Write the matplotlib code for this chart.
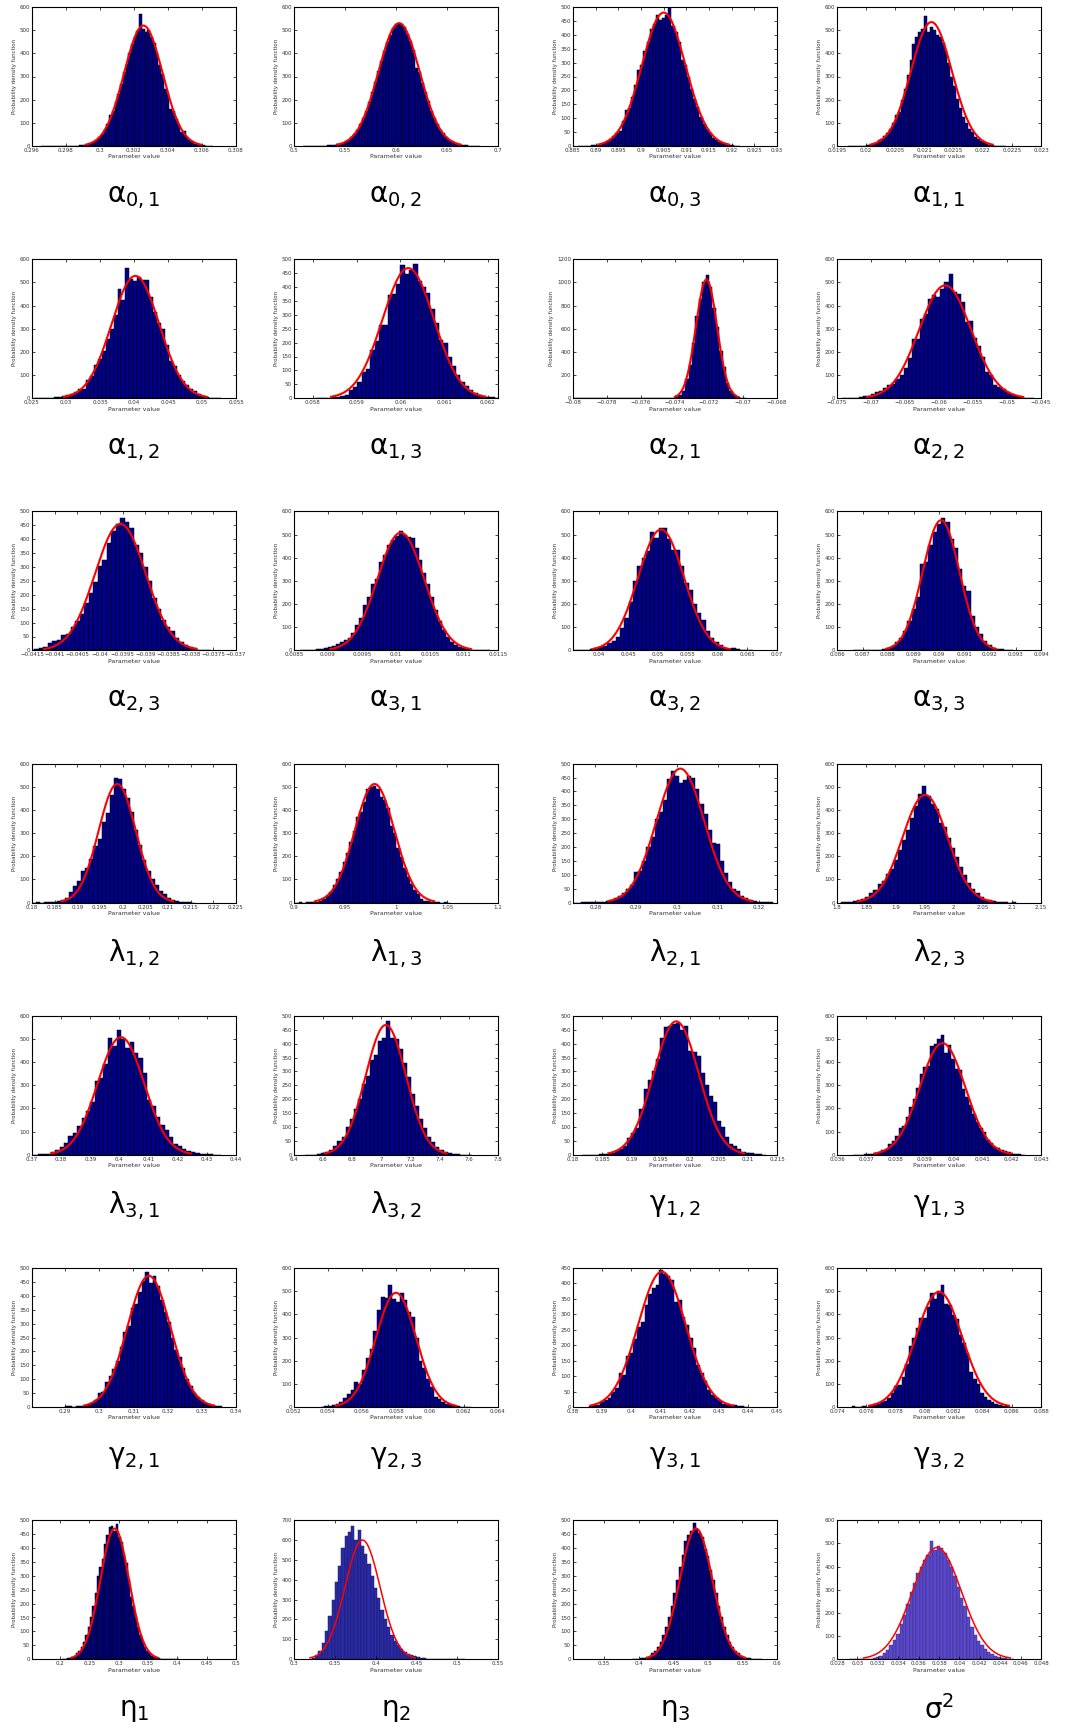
import matplotlib
matplotlib.use("Agg")
import matplotlib.pyplot as plt
import numpy as np
from matplotlib.ticker import FuncFormatter

plt.rcParams.update({"font.family": "DejaVu Sans", "mathtext.default": "regular"})

# parameter names (greek letter, subscript / superscript)
LABELS = [
    "α$_{0,1}$", "α$_{0,2}$", "α$_{0,3}$", "α$_{1,1}$",
    "α$_{1,2}$", "α$_{1,3}$", "α$_{2,1}$", "α$_{2,2}$",
    "α$_{2,3}$", "α$_{3,1}$", "α$_{3,2}$", "α$_{3,3}$",
    "λ$_{1,2}$", "λ$_{1,3}$", "λ$_{2,1}$", "λ$_{2,3}$",
    "λ$_{3,1}$", "λ$_{3,2}$", "γ$_{1,2}$", "γ$_{1,3}$",
    "γ$_{2,1}$", "γ$_{2,3}$", "γ$_{3,1}$", "γ$_{3,2}$",
    "η$_{1}$", "η$_{2}$", "η$_{3}$", "σ$^{2}$",
]

# histogram bins: left edge of first bin and bin width
BIN_START = [
    0.29651, 0.50907, 0.886135, 0.019695,
    0.025333, 0.05804, -0.0800, -0.0742,
    -0.04155, 0.008591, 0.0357, 0.086618,
    0.18005, 0.90145, 0.2745, 1.8065,
    0.3705, 6.474, 0.1816, 0.03656,
    0.2899, 0.05356, 0.3855, 0.0750,
    0.203, 0.322, 0.3902, 0.02918,
]
BIN_WIDTH = [
    0.000161, 0.00289, 0.000686, 0.00005,
    0.000583, 0.000098, 0.0002, 0.0006,
    0.0001, 0.000058, 0.00072, 0.000165,
    0.0009, 0.0033, 0.001, 0.007,
    0.0015, 0.028, 0.0007, 0.00012,
    0.00107, 0.000222, 0.00127, 0.000245,
    0.004, 0.004, 0.004, 0.00033,
]

HEIGHTS = [
    # alpha 0,1
    [0, 0, 0, 0, 0, 0, 0, 0, 0, 1, 0, 1, 1, 2, 3, 4, 6, 9, 13, 19, 27, 38, 52, 72,
     95, 133, 150, 190, 225, 268, 318, 355, 400, 440, 470, 495, 570, 505, 490, 500, 470, 445,
     400, 350, 310, 245, 225, 160, 150, 115, 90, 62, 65, 40, 25, 18, 10, 8, 5, 3, 2, 1, 0],
    # alpha 0,2
    [0, 0, 1, 0, 1, 1, 2, 2, 3, 4, 5, 7, 9, 14, 20, 28, 40, 53, 70,
     96, 120, 150, 190, 232, 275, 325, 365, 410, 450, 480, 510, 525, 530, 525, 515, 485, 455,
     415, 338, 320, 272, 232, 195, 150, 120, 95, 70, 55, 40, 28, 20, 13, 10, 6, 4, 3, 2, 1, 0, 0],
    # alpha 0,3
    [0, 1, 0, 1, 2, 3, 5, 8, 12, 18, 25, 35, 48, 55, 90, 130, 135, 175, 220, 275, 290, 340, 375,
     420, 440, 470, 455, 460, 470, 505, 430, 410, 375, 310, 290, 250, 205, 170, 140, 105, 80,
     60, 45, 30, 22, 15, 10, 6, 4, 2, 1, 0],
    # alpha 1,1
    [0, 0, 1, 0, 1, 2, 3, 5, 8, 15, 25, 30, 45, 55, 75, 100, 135, 145, 200, 245, 305, 370, 440, 470,
     490, 505, 560, 490, 515, 500, 480, 470, 445, 410, 360, 300, 260, 205, 165, 125, 100, 75,
     60, 40, 30, 20, 18, 15, 5, 3, 2, 1, 1, 0],
    # alpha 1,2
    [0, 0, 1, 1, 3, 4, 6, 8, 12, 20, 28, 38, 40, 80, 95, 145, 170, 205, 255, 300, 360, 470,
     425, 560, 515, 505, 525, 510, 510, 435, 370, 325, 300, 230, 160, 140,
     100, 75, 55, 40, 30, 18, 10, 5, 3, 2, 1],
    # alpha 1,3
    [0, 1, 1, 2, 3, 5, 8, 12, 28, 42, 60, 95, 105, 175, 205, 262, 265, 370, 375, 410, 478,
     445, 460, 482, 420, 400, 380, 320, 270, 210, 200, 150, 115, 85, 60, 45, 30, 20, 12, 8,
     5, 3, 2, 1, 0],
    # alpha 2,1
    [0] * 29 + [2, 8, 25, 60, 165, 290, 480, 710, 860, 1000, 1060, 960, 780, 615, 410, 270,
                130, 65, 30, 12, 3, 1],
    # alpha 2,2
    [0, 1, 2, 3, 6, 8, 10, 16, 25, 32, 42, 55, 62, 85, 100, 130, 175, 255, 255, 340, 365, 430,
     445, 435, 470, 500, 535, 460, 450, 415, 330, 335, 260, 225, 180, 115, 100, 55, 50, 40,
     25, 18, 10, 6, 3, 1, 0],
    # alpha 2,3
    [3, 5, 8, 12, 28, 35, 38, 55, 60, 85, 105, 130, 172, 205, 245, 305, 325, 385, 430, 455,
     478, 462, 440, 380, 350, 300, 250, 190, 150, 110, 85, 70, 45, 30, 20, 12, 10, 3, 2, 1],
    # alpha 3,1
    [1, 0, 1, 3, 6, 8, 10, 14, 20, 28, 38, 45, 52, 75, 110, 140, 198, 230, 285, 310, 380, 410,
     455, 475, 495, 515, 500, 490, 485, 440, 390, 335, 285, 230, 175, 125, 90, 60, 38, 22,
     14, 9, 5, 3, 2, 1, 1, 0],
    # alpha 3,2
    [0, 1, 1, 2, 5, 10, 15, 18, 30, 40, 60, 95, 140, 210, 300, 365, 400, 430, 512, 485, 530,
     530, 480, 435, 435, 365, 290, 262, 200, 160, 130, 85, 55, 35, 22, 12, 8, 10, 5, 2, 1, 0],
    # alpha 3,3
    [0, 0, 1, 0, 1, 1, 3, 6, 12, 20, 35, 55, 85, 125, 180, 230, 375, 380, 455, 510,
     545, 570, 555, 480, 440, 350, 280, 255, 150, 100, 70, 40, 25, 12, 8, 4, 2, 1],
    # lambda 1,2
    [0, 1, 0, 1, 2, 3, 5, 10, 20, 45, 70, 95, 135, 150, 190, 245, 275, 350, 385, 465,
     540, 535, 490, 450, 390, 315, 250, 185, 135, 100, 75, 50, 35, 20, 10, 5, 3, 1, 1, 0],
    # lambda 1,3
    [0, 1, 0, 1, 1, 2, 4, 8, 15, 30, 45, 75, 100, 130, 175, 215, 260, 310, 370, 390, 435, 490,
     500, 505, 490, 455, 445, 410, 330, 300, 235, 195, 150, 110, 80, 55, 35, 15, 8, 5, 3, 1,
     1, 0, 1, 0],
    # lambda 2,1
    [0, 0, 1, 1, 1, 2, 2, 3, 4, 8, 15, 25, 35, 50, 65, 110, 115, 150, 200, 235,
     300, 325, 370, 445, 472, 455, 432, 440, 455, 450, 410, 355, 320, 260, 215, 210, 150, 105,
     75, 50, 42, 25, 15, 10, 5, 3, 2, 1, 1],
    # lambda 2,3
    [1, 2, 2, 5, 10, 15, 25, 40, 55, 80, 95, 125, 145, 185, 225, 270, 315, 365, 415, 470, 505,
     460, 425, 405, 345, 325, 280, 235, 195, 155, 120, 85, 60, 40, 25, 12, 10, 8, 3, 1, 1, 0, 1],
    # lambda 3,1
    [1, 2, 3, 5, 12, 20, 35, 50, 80, 95, 125, 160, 190, 230, 320, 330, 390, 505, 470, 540, 500,
     460, 485, 440, 420, 355, 235, 210, 165, 130, 105, 75, 45, 40, 25, 15, 10, 8, 3, 2, 2, 1, 1],
    # lambda 3,2
    [0, 1, 1, 2, 5, 10, 18, 30, 50, 65, 100, 130, 165, 200, 255, 285, 340, 360, 410, 420, 480,
     420, 415, 380, 330, 280, 220, 175, 130, 95, 65, 45, 28, 18, 10, 5, 3, 2, 1, 0, 1],
    # gamma 1,2
    [1, 0, 1, 1, 2, 2, 3, 5, 12, 20, 30, 60, 80, 95, 165, 235, 270, 300, 345, 420, 460, 465,
     470, 475, 450, 462, 375, 370, 355, 295, 250, 210, 190, 120, 100, 65, 40, 30, 20, 10, 5,
     5, 3, 2, 1],
    # gamma 1,3
    [0, 1, 1, 2, 3, 5, 8, 12, 20, 25, 45, 60, 80, 115, 125, 165, 205, 240, 290, 350, 380, 385,
     470, 480, 500, 515, 440, 475, 415, 370, 365, 285, 250, 215, 175, 140, 115, 100, 65, 50,
     35, 30, 20, 18, 10, 5, 3, 2, 1],
    # gamma 2,1
    [3, 2, 1, 2, 3, 5, 8, 15, 25, 50, 55, 90, 110, 135, 165, 215, 270, 290, 355, 370, 415, 455,
     485, 445, 470, 435, 385, 340, 305, 250, 205, 180, 140, 100, 75, 50, 35, 25, 15, 10, 8, 5, 3],
    # gamma 2,3
    [1, 3, 5, 8, 12, 20, 38, 55, 75, 110, 100, 160, 210, 250, 330, 420, 475, 470, 525, 465,
     455, 490, 460, 410, 390, 300, 200, 170, 120, 85, 45, 35, 20, 12, 8, 5, 3, 2, 1, 1],
    # gamma 3,1
    [3, 5, 8, 15, 22, 28, 50, 60, 110, 105, 165, 175, 220, 260, 275, 330, 365, 385, 395, 445,
     430, 425, 410, 340, 345, 290, 265, 225, 190, 135, 110, 85, 55, 40, 30, 20, 10, 5, 5, 5, 4,
     2, 0],
    # gamma 3,2
    [3, 1, 2, 3, 2, 5, 12, 15, 20, 25, 40, 60, 90, 95, 130, 185, 265, 300, 340, 385, 385, 430,
     490, 465, 500, 525, 445, 440, 395, 380, 310, 275, 235, 150, 120, 100, 60, 45, 30, 20, 15,
     10, 5, 3, 2],
    # eta 1
    [1, 2, 3, 5, 8, 13, 21, 31, 45, 63, 87, 117, 153, 193, 238, 300, 332, 360, 415, 445, 475,
     480, 460, 485, 440, 420, 376, 345, 285, 225, 193, 153, 117, 87, 63, 45, 31, 21, 13, 8, 5,
     3, 2, 1, 1, 0, 1, 0, 0, 1],
    # eta 2
    [5, 15, 40, 80, 140, 220, 300, 390, 470, 560, 620, 640, 670, 600, 650, 570, 530, 480, 420,
     360, 310, 250, 200, 160, 120, 90, 70, 50, 38, 28, 20, 14, 10, 7, 5, 3, 2, 2, 1, 1, 0, 1,
     0, 0, 1, 0, 1],
    # eta 3
    [1, 1, 2, 3, 5, 8, 13, 21, 31, 45, 63, 87, 117, 153, 193, 238, 285, 332, 376, 425, 445,
     462, 490, 470, 455, 440, 395, 370, 320, 285, 238, 193, 153, 117, 87, 63, 45, 31, 21, 13,
     8, 5, 3, 2, 1, 1, 0],
    # sigma^2
    [1, 0, 1, 1, 1, 2, 3, 5, 10, 15, 25, 40, 60, 85, 110, 150, 190, 240, 290, 330, 370, 400,
     430, 450, 510, 470, 490, 480, 460, 430, 400, 360, 310, 265, 230, 180, 140, 105, 80, 60,
     45, 30, 22, 15, 10, 6, 4, 2, 1],
]

# fitted normal curves (mean, std, peak height)
FIT_MU = [
    0.30255, 0.603, 0.905, 0.02112,
    0.0402, 0.06018, -0.07215, -0.0591,
    -0.03955, 0.01007, 0.0505, 0.09008,
    0.1988, 0.979, 0.3008, 1.951,
    0.4005, 7.03, 0.1977, 0.03962,
    0.3145, 0.0580, 0.4105, 0.081,
    0.293, 0.384, 0.483, 0.0378,
]
FIT_SIGMA = [
    0.00113, 0.0202, 0.0048, 0.00035,
    0.0035, 0.000588, 0.00062, 0.00383,
    0.00056, 0.000345, 0.00385, 0.00072,
    0.0041, 0.0195, 0.00588, 0.0385,
    0.008, 0.139, 0.00388, 0.00078,
    0.00633, 0.00118, 0.00817, 0.0016,
    0.0245, 0.0215, 0.0237, 0.0024,
]
FIT_PEAK = [
    520, 530, 480, 535,
    528, 468, 1025, 487,
    455, 508, 522, 562,
    512, 512, 482, 465,
    508, 467, 480, 482,
    472, 493, 438, 497,
    470, 600, 470, 482,
]

# axis ranges and ticks
XLIMS = [
    (0.296, 0.308), (0.5, 0.7), (0.885, 0.93), (0.0195, 0.023),
    (0.025, 0.055), (0.05757, 0.06223), (-0.08, -0.068), (-0.075, -0.045),
    (-0.0415, -0.037), (0.0085, 0.0115), (0.0357, 0.07), (0.086, 0.094),
    (0.18, 0.225), (0.9, 1.1), (0.2745, 0.3245), (1.8, 2.15),
    (0.37, 0.44), (6.4, 7.8), (0.18, 0.215), (0.036, 0.043),
    (0.2803, 0.34), (0.052, 0.064), (0.38, 0.45), (0.074, 0.088),
    (0.152, 0.5), (0.3, 0.55), (0.305, 0.6), (0.028, 0.048),
]
XTICKS = [  # first, last, step
    (0.296, 0.308, 0.002), (0.5, 0.7, 0.05), (0.885, 0.93, 0.005), (0.0195, 0.023, 0.0005),
    (0.025, 0.055, 0.005), (0.058, 0.062, 0.001), (-0.08, -0.068, 0.002), (-0.075, -0.045, 0.005),
    (-0.0415, -0.037, 0.0005), (0.0085, 0.0115, 0.0005), (0.04, 0.07, 0.005), (0.086, 0.094, 0.001),
    (0.18, 0.225, 0.005), (0.9, 1.1, 0.05), (0.28, 0.32, 0.01), (1.8, 2.15, 0.05),
    (0.37, 0.44, 0.01), (6.4, 7.8, 0.2), (0.18, 0.215, 0.005), (0.036, 0.043, 0.001),
    (0.29, 0.34, 0.01), (0.052, 0.064, 0.002), (0.38, 0.45, 0.01), (0.074, 0.088, 0.002),
    (0.2, 0.5, 0.05), (0.3, 0.55, 0.05), (0.35, 0.6, 0.05), (0.028, 0.048, 0.002),
]
YMAX = [
    600, 600, 500, 600,
    600, 500, 1200, 600,
    500, 600, 600, 600,
    600, 600, 500, 600,
    600, 500, 500, 600,
    500, 600, 450, 600,
    500, 700, 500, 600,
]
YSTEP = [
    100, 100, 50, 100,
    100, 50, 200, 100,
    50, 100, 100, 100,
    100, 100, 50, 100,
    100, 50, 50, 100,
    50, 100, 50, 100,
    50, 100, 50, 100,
]

W, H = 1069, 1729
COL_LEFT = [32, 294, 573, 837]
AX_W, AX_H = 204, 139
ROW_TOP0, ROW_PITCH = 7, 252.2

BAR_FACE = {25: "#2a2aa6", 27: "#5a48c8"}
BAR_EDGE = {25: "#1a1a60", 27: "#3c3090"}


def fmt(v, _pos):
    s = f"{v:.6g}"
    return s.replace("-", "\u2212")


def main() -> None:
    fig = plt.figure(figsize=(W / 100, H / 100), dpi=100)

    for i, label in enumerate(LABELS):
        r, c = divmod(i, 4)
        top = ROW_TOP0 + r * ROW_PITCH
        ax = fig.add_axes([COL_LEFT[c] / W, 1 - (top + AX_H) / H, AX_W / W, AX_H / H])

        h = np.asarray(HEIGHTS[i], dtype=float)
        edges = BIN_START[i] + BIN_WIDTH[i] * np.arange(len(h))
        ax.bar(edges, h, width=BIN_WIDTH[i], align="edge",
               color=BAR_FACE.get(i, "#00008c"), edgecolor=BAR_EDGE.get(i, "black"),
               linewidth=0.35)

        mu, sd = FIT_MU[i], FIT_SIGMA[i]
        x = np.linspace(mu - 3 * sd, mu + 3 * sd, 200)
        ax.plot(x, FIT_PEAK[i] * np.exp(-0.5 * ((x - mu) / sd) ** 2),
                color="red", linewidth=1.1 if i in (25, 27) else 1.5)

        t0, t1, dt = XTICKS[i]
        n = int(round((t1 - t0) / dt)) + 1
        ax.set_xticks(np.round(t0 + dt * np.arange(n), 6))
        ax.set_yticks(np.arange(0, YMAX[i] + 1, YSTEP[i]))
        ax.set_xlim(*XLIMS[i])
        ax.set_ylim(0, YMAX[i])
        ax.xaxis.set_major_formatter(FuncFormatter(fmt))
        ax.tick_params(direction="in", length=2, width=0.5, labelsize=4, pad=1.5,
                       top=True, right=True, labelcolor="#333333")
        for sp in ax.spines.values():
            sp.set_linewidth(0.8)
        ax.set_ylabel("Probability density function", fontsize=4, labelpad=2, color="#333333")
        ax.set_xlabel("Parameter value", fontsize=4.5, labelpad=1, color="#333333")

        cx = COL_LEFT[c] + AX_W / 2
        cy = top + AX_H + 51
        fig.text(cx / W, 1 - cy / H, label, ha="center", va="center", fontsize=20)

    fig.savefig("out.png", dpi=100, facecolor="white")
    plt.close(fig)


if __name__ == "__main__":
    main()
